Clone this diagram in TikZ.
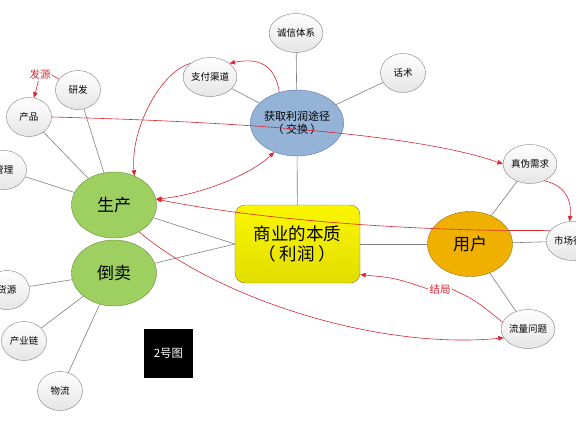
\documentclass[tikz,border=0pt]{standalone}
\usepackage{fontspec}
\setmainfont{Noto Sans CJK SC}
\usetikzlibrary{shapes.geometric,arrows.meta}
\definecolor{lnred}{RGB}{214,40,52}
\definecolor{lngray}{RGB}{128,128,128}
\definecolor{bluefill}{RGB}{149,179,215}
\definecolor{blueline}{RGB}{92,120,160}
\definecolor{greenfill}{RGB}{157,207,97}
\definecolor{greenline}{RGB}{104,142,56}
\definecolor{yelfill}{RGB}{250,246,0}
\definecolor{yelline}{RGB}{128,126,36}
\definecolor{orgfill}{RGB}{240,176,0}
\definecolor{orgline}{RGB}{150,112,20}
\begin{document}
\begin{tikzpicture}[
			x=1pt, y=-1pt,
			sm/.style={ellipse, draw=black!50, top color=white, bottom color=black!10, minimum width=45pt, minimum height=39pt, inner sep=0pt, font=\fontsize{9.5}{11}\selectfont},
			big/.style={ellipse, minimum width=85pt, minimum height=66pt, inner sep=0pt, font=\fontsize{17}{20}\selectfont},
			ln/.style={draw=lngray, line width=0.6pt},
			rdl/.style={draw=lnred, line width=0.6pt},
			rd/.style={rdl, -{Triangle[length=5.5pt,width=4.5pt]}},
			rdd/.style={rdl, {Triangle[length=5.5pt,width=4.5pt]}-{Triangle[length=5.5pt,width=4.5pt]}},
			tag/.style={text=lnred, font=\fontsize{10.5}{12}\selectfont, inner sep=1pt}
			]
			\fill[white] (0,0) rectangle (576,432);
			\useasboundingbox (0,0) rectangle (576,432);
			% --- centre ---
			\node[draw=yelline, top color=yelfill, bottom color=yelfill!90!black, rounded corners=10pt, minimum width=125pt, minimum height=78pt, align=center, font=\fontsize{17.5}{20}\selectfont] (core) at (297.5,244) {商业的本质\\（ 利润 ）};
			\node[big, draw=blueline, fill=bluefill, align=center, font=\fontsize{11}{13}\selectfont] (route) at (297,123) {获取利润途径\\（ 交换 ）};
			\node[big, draw=greenline, fill=greenfill] (make) at (114,205) {生产};
			\node[big, draw=greenline, fill=greenfill] (resell) at (114,273) {倒卖};
			\node[big, draw=orgline, fill=orgfill, minimum height=65pt] (user) at (470,244) {用户};
			% --- small nodes ---
			\node[sm] (honest) at (296,33) {诚信体系};
			\node[sm] (talk) at (403,73) {话术};
			\node[sm] (pay) at (210,77) {支付渠道};
			\node[sm] (rnd) at (78,90) {研发};
			\node[sm] (prod) at (29,117) {产品};
			\node[sm] (mgmt) at (4,170) {管理};
			\node[sm] (src) at (7,290) {货源};
			\node[sm] (chain) at (24,341) {产业链};
			\node[sm] (logi) at (60,391) {物流};
			\node[sm] (need) at (530,164) {真伪需求};
			\node[sm] (market) at (573,241) {市场行情};
			\node[sm] (flow) at (528,329) {流量问题};
			\node[fill=black, text=white, minimum size=49pt, inner sep=0pt, font=\fontsize{11.5}{13}\selectfont] (fig) at (168.5,353.5) {2号图};
			% --- labels ---
			\node[tag] (origin) at (40,75) {发源};
			\node[tag, fill=white] (ending) at (440,289) {结局};
			% --- gray links ---
			\draw[ln] (core) -- (route);
			\draw[ln] (route) -- (honest);
			\draw[ln] (route) -- (talk);
			\draw[ln] (route) -- (pay);
			\draw[ln] (core.west) -- (make);
			\draw[ln] (core.west) -- (resell);
			\draw[ln] (core) -- (user);
			\draw[ln] (make) -- (mgmt);
			\draw[ln] (make) -- (prod);
			\draw[ln] (make) -- (rnd);
			\draw[ln] (resell) -- (src);
			\draw[ln] (resell) -- (chain);
			\draw[ln] (resell) -- (logi);
			\draw[ln] (user) -- (need);
			\draw[ln] (user) -- (market);
			\draw[ln] (user) -- (flow);
			% --- red arrows ---
			\draw[rdl] (origin.east) -- (rnd);
			\draw[rd] (origin) -- (prod);
			\draw[rd] (prod.east) .. controls (250,122) and (420,135) .. (need.west);
			\draw[rd] (route.120) .. controls (275,62) and (255,58) .. (pay.35);
			\draw[rd] (pay.145) .. controls (160,72) and (130,130) .. (make.55);
			\draw[rdd] (make.8) .. controls (200,195) and (250,175) .. (route.232);
			\draw[rd] (market.155) .. controls (420,232) and (260,220) .. (make.8);
			\draw[rd] (need.-50) .. controls (565,185) and (572,200) .. (market.100);
			\draw[rd] (make.-47) .. controls (220,300) and (380,350) .. (flow.200);
			\draw[rdl] (flow.165) .. controls (475,300) .. (ending.east);
			\draw[rd] (ending.west) .. controls (395,278) .. (core.-26);
		\end{tikzpicture}
\end{document}
